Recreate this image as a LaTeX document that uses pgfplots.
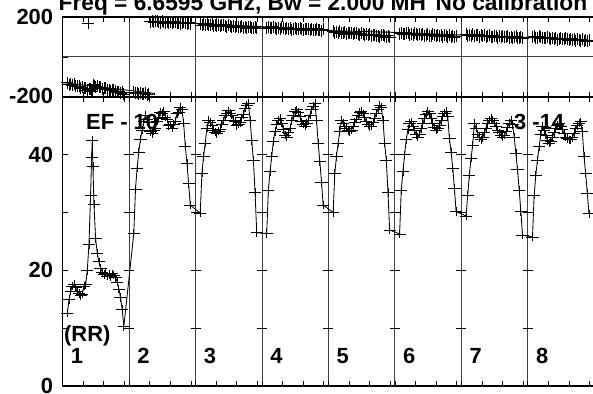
\documentclass[border=0pt]{standalone}
\usepackage{pgfplots}
\usepackage{pgfplotstable}
\pgfplotsset{compat=1.18}
\usepackage{fontspec}
\setmainfont{Liberation Sans}

\pgfplotstableread{
x a p
0.07 12.6 -129
0.095 15.0 -138
0.12 16.4 -136
0.145 17.3 -141
0.17 17.6 -137
0.195 17.0 -147
0.22 16.3 -146
0.245 16.0 -145
0.27 15.6 -156
0.295 15.9 -151
0.32 17.3 -157
0.345 17.5 -155
0.37 20.0 -165
0.395 24.5 -162
0.42 33.0 -160
0.435 39.5 -170
0.445 42.5 -173
0.455 38.0 -138
0.47 31.5 -144
0.495 25.5 -151
0.52 23.0 -146
0.545 21.5 -151
0.57 20.4 -150
0.595 19.7 -158
0.62 19.3 -156
0.645 19.5 -155
0.67 19.0 -163
0.695 19.3 -163
0.72 18.9 -169
0.745 19.4 -165
0.77 19.2 -164
0.795 18.8 -172
0.82 18.0 -177
0.845 16.8 -173
0.87 15.3 -180
0.895 13.3 -177
0.92 10.3 -186
1.07 26.4 -176
1.095 34.0 -182
1.12 37.7 -179
1.145 40.5 -183
1.17 42.7 -179
1.195 44.3 -184
1.22 45.7 -183
1.245 46.9 -181
1.27 46.2 -188
1.295 45.6 -185
1.32 44.0 177
1.345 43.7 180
1.37 44.2 173
1.395 44.5 178
1.42 45.8 180
1.445 46.3 174
1.47 47.4 172
1.495 47.2 179
1.52 47.5 175
1.545 46.5 169
1.57 46.2 176
1.595 45.1 172
1.62 45.2 176
1.645 44.6 170
1.67 45.3 173
1.695 45.8 176
1.72 47.1 169
1.745 47.4 171
1.77 48.2 167
1.795 47.8 172
1.82 45.5 175
1.845 41.5 168
1.87 38.5 166
1.895 35.0 171
1.92 31.3 166
2.07 29.9 167
2.095 36.8 159
2.12 39.7 164
2.145 42.0 160
2.17 44.6 167
2.195 46.0 158
2.22 45.6 161
2.245 45.1 164
2.27 44.3 155
2.295 43.9 161
2.32 43.7 157
2.345 44.1 161
2.37 44.4 153
2.395 45.3 158
2.42 45.9 161
2.445 46.8 154
2.47 47.1 152
2.495 47.6 158
2.52 47.2 154
2.545 46.9 148
2.57 46.0 155
2.595 45.8 151
2.62 45.1 155
2.645 45.3 148
2.67 45.6 152
2.695 46.4 154
2.72 47.0 147
2.745 48.1 149
2.77 48.6 144
2.795 48.9 150
2.82 46.0 152
2.845 42.5 146
2.87 39.0 143
2.895 33.5 149
2.92 26.5 143
3.07 26.4 145
3.095 33.9 150
3.12 37.1 143
3.145 39.7 145
3.17 42.3 151
3.195 44.0 147
3.22 45.2 141
3.245 46.0 145
3.27 46.3 142
3.295 45.5 148
3.32 44.4 144
3.345 43.4 140
3.37 43.1 146
3.395 43.8 141
3.42 44.6 144
3.445 45.9 137
3.47 46.8 141
3.495 47.5 145
3.52 47.8 138
3.545 47.3 138
3.57 46.6 145
3.595 45.7 141
3.62 45.3 135
3.645 45.0 142
3.67 45.4 138
3.695 46.0 140
3.72 46.9 133
3.745 47.8 141
3.77 48.4 137
3.795 48.9 134
3.82 46.0 141
3.845 42.0 134
3.87 38.8 137
3.895 35.3 131
3.92 31.3 138
4.07 30.0 129
4.095 36.8 121
4.12 39.7 126
4.145 42.0 122
4.17 44.0 128
4.195 46.0 120
4.22 45.5 122
4.245 45.0 125
4.27 44.6 115
4.295 44.2 122
4.32 44.0 118
4.345 44.3 121
4.37 44.9 114
4.395 45.6 118
4.42 46.2 121
4.445 46.9 113
4.47 47.3 112
4.495 47.5 118
4.52 47.1 113
4.545 46.4 108
4.57 45.7 114
4.595 45.2 110
4.62 44.9 114
4.645 45.0 107
4.67 45.6 110
4.695 46.3 112
4.72 47.2 106
4.745 47.9 107
4.77 48.6 102
4.795 48.2 108
4.82 46.0 110
4.845 42.0 103
4.87 39.0 100
4.895 33.5 106
4.92 27.0 100
5.07 26.3 116
5.095 33.9 121
5.12 37.1 114
5.145 40.0 116
5.17 42.6 121
5.195 44.4 118
5.22 45.4 111
5.245 45.7 115
5.27 45.0 112
5.295 44.2 118
5.32 43.5 114
5.345 43.1 110
5.37 43.6 115
5.395 44.5 111
5.42 45.4 113
5.445 46.3 106
5.47 47.0 110
5.495 47.5 114
5.52 47.1 107
5.545 46.3 107
5.57 45.4 114
5.595 44.8 109
5.62 44.3 104
5.645 44.5 110
5.67 45.1 106
5.695 45.9 108
5.72 46.6 101
5.745 47.2 109
5.77 47.5 105
5.795 46.6 101
5.82 42.8 109
5.845 40.5 101
5.87 37.7 104
5.895 34.2 98
5.92 30.2 105
6.07 29.4 113
6.095 33.0 106
6.12 36.5 110
6.145 39.4 107
6.17 41.7 113
6.195 45.4 105
6.22 44.6 108
6.245 43.6 111
6.27 43.0 102
6.295 42.6 108
6.32 43.0 105
6.345 43.8 109
6.37 44.6 101
6.395 45.4 106
6.42 46.0 109
6.445 46.3 102
6.47 46.0 100
6.495 45.5 107
6.52 44.9 103
6.545 44.3 97
6.57 43.8 104
6.595 43.4 100
6.62 43.1 104
6.645 43.4 98
6.67 44.0 101
6.695 44.8 104
6.72 45.5 97
6.745 46.0 99
6.77 45.2 95
6.795 43.0 100
6.82 40.2 103
6.845 37.4 96
6.87 33.9 94
6.895 30.2 99
6.92 26.1 94
7.07 25.8 98
7.095 33.0 103
7.12 36.5 96
7.145 39.1 97
7.17 41.4 103
7.195 43.5 99
7.22 44.9 93
7.245 44.2 96
7.27 43.4 94
7.295 42.5 99
7.32 42.0 96
7.345 42.3 91
7.37 43.0 97
7.395 43.8 92
7.42 44.6 95
7.445 45.1 87
7.47 45.4 92
7.495 45.0 95
7.52 44.4 88
7.545 43.7 88
7.57 43.1 94
7.595 42.8 90
7.62 42.6 84
7.645 42.6 91
7.67 43.0 86
7.695 43.7 89
7.72 44.5 81
7.745 45.1 90
7.77 45.5 85
7.795 45.7 82
7.82 44.0 89
7.845 39.7 82
7.87 36.8 84
7.895 33.3 79
7.92 29.8 85
}\datatab

\newcommand{\lblfont}{\fontsize{22}{24}\selectfont\bfseries}

\begin{document}
\begin{tikzpicture}
\pgfplotsset{
  panel/.style={
    scale only axis, width=531.6bp, xmin=0, xmax=8,
    axis line style={line width=1.2bp},
    xtick={0,1,2,3,4,5,6,7,8}, xticklabels={}, xmajorgrids,
    major x grid style={black!75, line width=1bp},
    minor xtick={0.31,0.62,0.93,1.31,1.62,1.93,2.31,2.62,2.93,3.31,3.62,3.93,4.31,4.62,4.93,5.31,5.62,5.93,6.31,6.62,6.93,7.31,7.62,7.93},
    tick align=inside, xtick pos=both, ytick pos=left,
    major tick length=5bp, minor tick length=5bp,
    tick style={black, line width=0.8bp},
    yticklabel style={font=\lblfont, inner sep=0pt, xshift=-9.4bp},
    clip=false,
  },
  crosses/.style={black, mark=+, mark size=4.2bp, mark options={xscale=1.45, line width=0.75bp, solid}},
  pcrosses/.style={black, mark=+, mark size=6bp, mark options={line width=0.75bp, solid}},
}
% amplitude panel
\begin{axis}[panel, at={(62.7bp,8bp)}, anchor=south west, height=289bp,
  ymin=0, ymax=50, ytick={0,10,20,30,40}, yticklabels={0,,20,,40}]
\addplot[crosses, line width=0.85bp] table[x=x, y=a]{\datatab};
\pgfplotsinvokeforeach{1,2,3,4,5,6,7}{
  \draw[line width=0.8bp] ([xshift=-5bp]axis cs:#1,10) -- ([xshift=5bp]axis cs:#1,10);
  \draw[line width=0.8bp] ([xshift=-5bp]axis cs:#1,20) -- ([xshift=5bp]axis cs:#1,20);
  \draw[line width=0.8bp] ([xshift=-5bp]axis cs:#1,30) -- ([xshift=5bp]axis cs:#1,30);
  \draw[line width=0.8bp] ([xshift=-5bp]axis cs:#1,40) -- ([xshift=5bp]axis cs:#1,40);
}
\end{axis}
% phase panel
\begin{axis}[panel, at={(62.7bp,297bp)}, anchor=south west, height=80bp,
  ymin=-200, ymax=200, ytick={-200,200}, yticklabels={\raisebox{3bp}{-200},200},
  extra y ticks={0}, extra y tick labels={},
  extra y tick style={grid=major, major grid style={black!75, line width=1bp}}]
\addplot[pcrosses, only marks] table[x=x, y=p]{\datatab};
\addplot[pcrosses, only marks] coordinates {(0.38,168)};
\addplot[black, line width=0.9bp, no marks] coordinates {(0,-128) (1.39,-182)};
\addplot[black, line width=0.9bp, no marks] coordinates {(1.24,177) (2,168) (3,152) (3.5,139) (4,132) (5,123) (6,110) (7,98) (8,82)};
\end{axis}
% texts
\node[anchor=base west, inner sep=0pt, font=\fontsize{22.8}{24}\selectfont\bfseries] at (58.5bp,383.3bp) {Freq = 6.6595 GHz, Bw = 2.000 MH};
\node[anchor=base west, inner sep=0pt, font=\fontsize{22.8}{24}\selectfont\bfseries] at (435.5bp,383.3bp) {No calibration};
\node[anchor=base west, inner sep=0pt, font=\lblfont] at (86bp,264bp) {EF - 10};
\node[anchor=base west, inner sep=0pt, font=\lblfont] at (514bp,264bp) {3 -14};
\node[anchor=base west, inner sep=0pt, font=\lblfont] at (64bp,52.3bp) {(RR)};
\foreach \k/\xx in {1/70.7,2/137.2,3/203.6,4/270.1,5/336.5,6/403.0,7/469.5,8/535.9}{
  \node[anchor=base west, inner sep=0pt, font=\lblfont] at (\xx bp,30.7bp) {\k};
}
\pgfresetboundingbox
\useasboundingbox (0,0) rectangle (593bp,394bp);
\end{tikzpicture}
\end{document}
